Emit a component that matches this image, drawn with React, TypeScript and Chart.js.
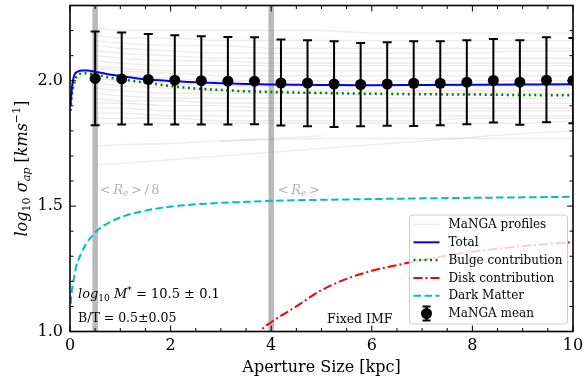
import React, { useEffect, useRef } from 'react';
import { Chart, registerables } from 'chart.js';

Chart.register(...registerables);

const FONT = "'DejaVu Serif'";

// ---------------- data ----------------
const meanX = [0.5, 1.028, 1.556, 2.083, 2.611, 3.139, 3.667, 4.194, 4.722, 5.25, 5.778, 6.306, 6.833, 7.361, 7.889, 8.417, 8.944, 9.472, 10.0];
const meanY = [2.009, 2.007, 2.005, 2.002, 2.0, 1.998, 1.998, 1.991, 1.991, 1.987, 1.985, 1.987, 1.99, 1.99, 1.994, 2.001, 1.994, 2.002, 2.001];
const meanHi = [2.196, 2.192, 2.186, 2.181, 2.177, 2.174, 2.173, 2.164, 2.161, 2.157, 2.15, 2.153, 2.157, 2.157, 2.161, 2.166, 2.161, 2.173, 2.17];
const meanLo = [1.822, 1.825, 1.825, 1.825, 1.825, 1.825, 1.826, 1.821, 1.818, 1.815, 1.818, 1.82, 1.819, 1.822, 1.826, 1.833, 1.824, 1.834, 1.83];

const modelX = [0.01, 0.025, 0.05, 0.09, 0.15, 0.25, 0.35, 0.5, 0.75, 1, 1.5, 2, 2.5, 3, 3.5, 4, 5, 6, 7, 8, 9, 10];
const totalY = [1.9, 1.94, 1.99, 2.024, 2.036, 2.041, 2.041, 2.036, 2.026, 2.019, 2.006, 1.999, 1.994, 1.99, 1.987, 1.985, 1.983, 1.982, 1.983, 1.984, 1.985, 1.986];
const bulgeY = [1.88, 1.92, 1.96, 1.995, 2.022, 2.029, 2.03, 2.025, 2.014, 2.006, 1.992, 1.979, 1.969, 1.963, 1.958, 1.955, 1.951, 1.948, 1.946, 1.945, 1.943, 1.942];

const dmX = [0.015, 0.025, 0.055, 0.09, 0.12, 0.22, 0.32, 0.45, 0.55, 0.8, 1.1, 1.5, 1.8, 2.2, 2.5, 3, 3.5, 4, 5, 6, 7, 8, 9, 10];
const dmY = [1.11, 1.14, 1.185, 1.225, 1.257, 1.31, 1.35, 1.383, 1.405, 1.437, 1.462, 1.482, 1.493, 1.502, 1.507, 1.513, 1.517, 1.521, 1.525, 1.528, 1.531, 1.533, 1.535, 1.537];

const diskX = [3.7, 3.8, 4.0, 4.5, 5, 5.5, 6, 6.5, 7, 7.5, 8, 8.5, 9, 9.5, 10];
const diskY = [0.97, 1.005, 1.037, 1.1, 1.165, 1.21, 1.242, 1.265, 1.285, 1.303, 1.318, 1.33, 1.341, 1.349, 1.357];

const profX = [0.5, 1, 2, 3, 4, 5, 6, 7, 8, 9, 10];
const prof01 = [2.21, 2.2, 2.2, 2.2, 2.2, 2.2, 2.19, 2.19, 2.19, 2.19, 2.19];
const prof02 = [2.18, 2.17, 2.17, 2.16, 2.16, 2.16, 2.16, 2.16, 2.16, 2.16, 2.16];
const prof03 = [2.16, 2.15, 2.14, 2.14, 2.13, 2.13, 2.13, 2.13, 2.13, 2.13, 2.13];
const prof04 = [2.14, 2.13, 2.12, 2.11, 2.11, 2.11, 2.11, 2.11, 2.11, 2.12, 2.12];
const prof05 = [2.12, 2.11, 2.1, 2.09, 2.09, 2.09, 2.09, 2.09, 2.09, 2.09, 2.09];
const prof06 = [2.1, 2.09, 2.08, 2.08, 2.07, 2.07, 2.07, 2.07, 2.07, 2.07, 2.07];
const prof07 = [2.08, 2.07, 2.06, 2.06, 2.06, 2.06, 2.06, 2.06, 2.06, 2.06, 2.06];
const prof08 = [2.06, 2.05, 2.04, 2.04, 2.04, 2.04, 2.04, 2.04, 2.04, 2.04, 2.04];
const prof09 = [2.05, 2.04, 2.03, 2.02, 2.02, 2.02, 2.02, 2.02, 2.02, 2.02, 2.02];
const prof10 = [2.03, 2.02, 2.01, 2.0, 2.0, 2.0, 2.0, 2.0, 2.0, 2.0, 2.0];
const prof11 = [2.01, 2.0, 1.99, 1.98, 1.98, 1.98, 1.98, 1.98, 1.98, 1.98, 1.98];
const prof12 = [1.99, 1.98, 1.97, 1.96, 1.96, 1.96, 1.96, 1.96, 1.96, 1.96, 1.97];
const prof13 = [1.97, 1.96, 1.95, 1.95, 1.95, 1.95, 1.95, 1.95, 1.95, 1.95, 1.95];
const prof14 = [1.95, 1.94, 1.93, 1.93, 1.93, 1.93, 1.93, 1.93, 1.93, 1.93, 1.93];
const prof15 = [1.93, 1.92, 1.92, 1.91, 1.91, 1.91, 1.91, 1.91, 1.91, 1.91, 1.91];
const prof16 = [1.91, 1.91, 1.9, 1.9, 1.89, 1.89, 1.89, 1.89, 1.89, 1.89, 1.89];
const prof17 = [1.89, 1.89, 1.88, 1.88, 1.88, 1.88, 1.88, 1.88, 1.88, 1.88, 1.88];
const prof18 = [1.87, 1.87, 1.86, 1.86, 1.86, 1.86, 1.86, 1.86, 1.86, 1.86, 1.86];
const prof19 = [1.85, 1.85, 1.85, 1.84, 1.84, 1.84, 1.84, 1.84, 1.85, 1.85, 1.85];
const prof20 = [1.83, 1.83, 1.83, 1.83, 1.83, 1.83, 1.83, 1.83, 1.83, 1.83, 1.84];
const prof21 = [1.74, 1.745, 1.75, 1.76, 1.77, 1.78, null, null, null, null, null];
const prof22 = [1.665, 1.67, 1.685, 1.7, 1.715, 1.73, 1.745, 1.76, 1.775, 1.79, 1.8];
const prof23 = [null, null, null, 1.76, 1.765, 1.77, 1.77, 1.77, 1.77, 1.77, 1.77];
const profiles = [prof01, prof02, prof03, prof04, prof05, prof06, prof07, prof08, prof09, prof10, prof11, prof12, prof13, prof14, prof15, prof16, prof17, prof18, prof19, prof20, prof21, prof22, prof23];

const bandX = [0.5, 4.0];
const xTicks = [0, 2, 4, 6, 8, 10];
const yTicks = [1.0, 1.5, 2.0];

// ---------------- styles ----------------
const PROF_COLOR = 'rgba(128,128,128,0.15)';
const BLUE = '#0000ff';
const GREEN = '#008000';
const RED = '#ff0000';
const CYAN = '#00bfbf';
const DOT = [2, 3.5];
const DASHDOT = [9, 3, 2, 3];
const DASH = [7.5, 3.5];

type Seg = { t: string; it?: boolean; sc?: number; dy?: number };

function richWidth(ctx: CanvasRenderingContext2D, segs: Seg[], size: number) {
  let w = 0;
  for (const s of segs) {
    const fs = size * (s.sc ?? 1);
    ctx.font = `${s.it ? 'italic ' : ''}${fs}px ${FONT}`;
    w += ctx.measureText(s.t).width;
  }
  return w;
}
function drawRich(ctx: CanvasRenderingContext2D, segs: Seg[], x: number, y: number, size: number) {
  let cx = x;
  ctx.textBaseline = 'alphabetic';
  ctx.textAlign = 'left';
  for (const s of segs) {
    const fs = size * (s.sc ?? 1);
    ctx.font = `${s.it ? 'italic ' : ''}${fs}px ${FONT}`;
    ctx.fillText(s.t, cx, y + (s.dy ?? 0) * size);
    cx += ctx.measureText(s.t).width;
  }
}

const pts = (xs: number[], ys: (number | null)[]) => xs.map((x, i) => ({ x, y: ys[i] }));

const decor = {
  id: 'decor',
  beforeDatasetsDraw(chart: any) {
    const { ctx, chartArea: ca, scales } = chart;
    ctx.save();
    ctx.fillStyle = 'rgba(128,128,128,0.55)';
    for (const b of bandX) {
      const px = scales.x.getPixelForValue(b);
      ctx.fillRect(px - 2.75, ca.top, 5.5, ca.bottom - ca.top);
    }
    ctx.restore();
  },
  afterDatasetsDraw(chart: any) {
    const { ctx, chartArea: ca, scales } = chart;
    ctx.save();
    ctx.beginPath();
    ctx.rect(ca.left, ca.top, ca.right - ca.left, ca.bottom - ca.top);
    ctx.clip();
    ctx.strokeStyle = '#000';
    ctx.lineWidth = 2;
    meanX.forEach((x, i) => {
      const px = scales.x.getPixelForValue(x);
      const hi = scales.y.getPixelForValue(meanHi[i]);
      const lo = scales.y.getPixelForValue(meanLo[i]);
      ctx.beginPath();
      ctx.moveTo(px, hi); ctx.lineTo(px, lo);
      ctx.moveTo(px - 4.5, hi); ctx.lineTo(px + 4.5, hi);
      ctx.moveTo(px - 4.5, lo); ctx.lineTo(px + 4.5, lo);
      ctx.stroke();
    });
    ctx.restore();
  },
  afterDraw(chart: any) {
    const { ctx, chartArea: ca, scales } = chart;
    const sx = scales.x, sy = scales.y;
    ctx.save();
    // frame
    ctx.strokeStyle = '#000';
    ctx.lineWidth = 1.6;
    ctx.strokeRect(ca.left, ca.top, ca.right - ca.left, ca.bottom - ca.top);
    // ticks (inward)
    ctx.lineWidth = 1;
    ctx.beginPath();
    for (let k = 0; k <= 20; k++) {
      const v = k * 0.5;
      const len = k % 4 === 0 ? 6 : 3.5;
      const px = sx.getPixelForValue(v);
      ctx.moveTo(px, ca.bottom); ctx.lineTo(px, ca.bottom - len);
      ctx.moveTo(px, ca.top); ctx.lineTo(px, ca.top + len);
    }
    for (let k = 10; k <= 23; k++) {
      const v = k / 10;
      const len = k % 5 === 0 ? 6 : 3.5;
      const py = sy.getPixelForValue(v);
      ctx.moveTo(ca.left, py); ctx.lineTo(ca.left + len, py);
      ctx.moveTo(ca.right, py); ctx.lineTo(ca.right - len, py);
    }
    ctx.stroke();

    // band labels
    ctx.fillStyle = '#b4b4b4';
    const reLbl1: Seg[] = [{ t: '<\u2009' }, { t: 'R', it: true }, { t: 'e', it: true, sc: 0.7, dy: 0.2 }, { t: '\u2009>\u2009/\u20098' }];
    const reLbl2: Seg[] = [{ t: '<\u2009' }, { t: 'R', it: true }, { t: 'e', it: true, sc: 0.7, dy: 0.2 }, { t: '\u2009>' }];
    drawRich(ctx, reLbl1, sx.getPixelForValue(bandX[0]) + 4.5, sy.getPixelForValue(1.55), 13);
    drawRich(ctx, reLbl2, sx.getPixelForValue(bandX[1]) + 6.5, sy.getPixelForValue(1.55), 13);

    // annotations
    ctx.fillStyle = '#000';
    const massLbl: Seg[] = [{ t: 'log', it: true }, { t: '10', sc: 0.7, dy: 0.2 }, { t: ' ' }, { t: 'M', it: true }, { t: '*', sc: 0.7, dy: -0.4 }, { t: ' = 10.5 ± 0.1' }];
    drawRich(ctx, massLbl, ca.left + 8, 298, 13);
    drawRich(ctx, [{ t: 'B/T = 0.5±0.05' }], ca.left + 8, 321.5, 12.5);
    drawRich(ctx, [{ t: 'Fixed IMF' }], 327, 323, 12.5);

    // x title
    const xt: Seg[] = [{ t: 'Aperture Size [kpc]' }];
    const xw = richWidth(ctx, xt, 16);
    drawRich(ctx, xt, (ca.left + ca.right) / 2 - xw / 2, 372, 16);

    // y title
    const yt: Seg[] = [
      { t: 'log', it: true }, { t: '10', sc: 0.7, dy: 0.2 }, { t: ' ' },
      { t: 'σ', it: true }, { t: 'ap', it: true, sc: 0.7, dy: 0.2 }, { t: ' [' },
      { t: 'kms', it: true }, { t: '−1', sc: 0.7, dy: -0.42 }, { t: ']' },
    ];
    const yw = richWidth(ctx, yt, 16);
    ctx.save();
    ctx.translate(27, (ca.top + ca.bottom) / 2);
    ctx.rotate(-Math.PI / 2);
    drawRich(ctx, yt, -yw / 2, 0, 16);
    ctx.restore();

    // legend
    const bw = 158, bh = 109;
    const bx = ca.right - 5.5 - bw, by = ca.bottom - 7.5 - bh;
    ctx.beginPath();
    const r = 3;
    ctx.moveTo(bx + r, by);
    ctx.arcTo(bx + bw, by, bx + bw, by + bh, r);
    ctx.arcTo(bx + bw, by + bh, bx, by + bh, r);
    ctx.arcTo(bx, by + bh, bx, by, r);
    ctx.arcTo(bx, by, bx + bw, by, r);
    ctx.closePath();
    ctx.fillStyle = 'rgba(255,255,255,0.8)';
    ctx.fill();
    ctx.strokeStyle = '#cccccc';
    ctx.lineWidth = 1;
    ctx.stroke();

    const items = [
      { label: 'MaNGA profiles', color: PROF_COLOR, dash: [] as number[], lw: 1.5 },
      { label: 'Total', color: BLUE, dash: [], lw: 2 },
      { label: 'Bulge contribution', color: GREEN, dash: DOT, lw: 2.5 },
      { label: 'Disk contribution', color: RED, dash: DASHDOT, lw: 2 },
      { label: 'Dark Matter', color: CYAN, dash: DASH, lw: 2 },
      { label: 'MaNGA mean', color: '#000', dash: [], lw: 2 },
    ];
    items.forEach((it, i) => {
      const cy = by + 9.5 + i * 17.8;
      const hx0 = bx + 4, hx1 = bx + 30;
      if (i < 5) {
        ctx.strokeStyle = it.color;
        ctx.lineWidth = it.lw;
        ctx.setLineDash(it.dash);
        ctx.beginPath();
        ctx.moveTo(hx0, cy); ctx.lineTo(hx1, cy);
        ctx.stroke();
        ctx.setLineDash([]);
      } else {
        const mx = (hx0 + hx1) / 2;
        ctx.strokeStyle = '#000';
        ctx.lineWidth = 2;
        ctx.beginPath();
        ctx.moveTo(mx, cy - 7); ctx.lineTo(mx, cy + 7);
        ctx.moveTo(mx - 4, cy - 7); ctx.lineTo(mx + 4, cy - 7);
        ctx.moveTo(mx - 4, cy + 7); ctx.lineTo(mx + 4, cy + 7);
        ctx.stroke();
        ctx.fillStyle = '#000';
        ctx.beginPath();
        ctx.arc(mx, cy, 5.5, 0, Math.PI * 2);
        ctx.fill();
      }
      ctx.fillStyle = '#000';
      ctx.font = `12px ${FONT}`;
      ctx.textBaseline = 'middle';
      ctx.textAlign = 'left';
      ctx.fillText(it.label, bx + 39, cy + 0.5);
    });
    ctx.restore();
  },
};

const zeroPad = (s: any) => { s.paddingTop = 0; s.paddingBottom = 0; s.paddingLeft = 0; s.paddingRight = 0; };

export default function App() {
  const ref = useRef<HTMLCanvasElement>(null);
  useEffect(() => {
    document.body.style.margin = '0';
    const lineBase = { type: 'line' as const, pointRadius: 0, fill: false, cubicInterpolationMode: 'monotone' as const, borderCapStyle: 'butt' as const };
    const datasets: any[] = [
      {
        type: 'line', label: 'MaNGA mean', data: pts(meanX, meanY), showLine: false,
        pointRadius: 5.5, pointBackgroundColor: '#000', pointBorderColor: '#000', pointBorderWidth: 0, clip: 0,
      },
      { ...lineBase, label: 'Total', data: pts(modelX, totalY), borderColor: BLUE, borderWidth: 2 },
      { ...lineBase, label: 'Bulge contribution', data: pts(modelX, bulgeY), borderColor: GREEN, borderWidth: 2.5, borderDash: DOT },
      { ...lineBase, label: 'Disk contribution', data: pts(diskX, diskY), borderColor: RED, borderWidth: 2, borderDash: DASHDOT },
      { ...lineBase, label: 'Dark Matter', data: pts(dmX, dmY), borderColor: CYAN, borderWidth: 2, borderDash: DASH },
      ...profiles.map((p, i) => ({ ...lineBase, label: i === 0 ? 'MaNGA profiles' : '', data: pts(profX, p), borderColor: PROF_COLOR, borderWidth: 1.5, spanGaps: false })),
    ];
    const chart = new Chart(ref.current!, {
      type: 'line',
      data: { datasets },
      options: {
        animation: false,
        responsive: false,
        devicePixelRatio: 1,
        layout: { padding: { left: 0, right: 11, top: 4, bottom: 0 } },
        plugins: { legend: { display: false }, tooltip: { enabled: false } },
        scales: {
          x: {
            type: 'linear', min: 0, max: 10,
            grid: { display: false, drawTicks: false },
            border: { display: false },
            afterFit: (s: any) => { s.height = 49.5; zeroPad(s); },
            afterBuildTicks: (s: any) => { s.ticks = xTicks.map((v) => ({ value: v })); },
            ticks: { font: { family: 'DejaVu Serif', size: 16 }, color: '#000', padding: 5, maxRotation: 0, autoSkip: false, callback: (v: any) => String(v) },
          },
          y: {
            type: 'linear', min: 1.0, max: 2.3,
            grid: { display: false, drawTicks: false },
            border: { display: false },
            afterFit: (s: any) => { s.width = 70; zeroPad(s); },
            afterBuildTicks: (s: any) => { s.ticks = yTicks.map((v) => ({ value: v })); },
            ticks: { font: { family: 'DejaVu Serif', size: 16 }, color: '#000', padding: 7, autoSkip: false, callback: (v: any) => Number(v).toFixed(1) },
          },
        },
      },
      plugins: [decor],
    } as any);
    return () => chart.destroy();
  }, []);
  return (
    <div style={{ width: 584, height: 381 }}>
      <canvas ref={ref} width={584} height={381} style={{ display: 'block' }} />
    </div>
  );
}
